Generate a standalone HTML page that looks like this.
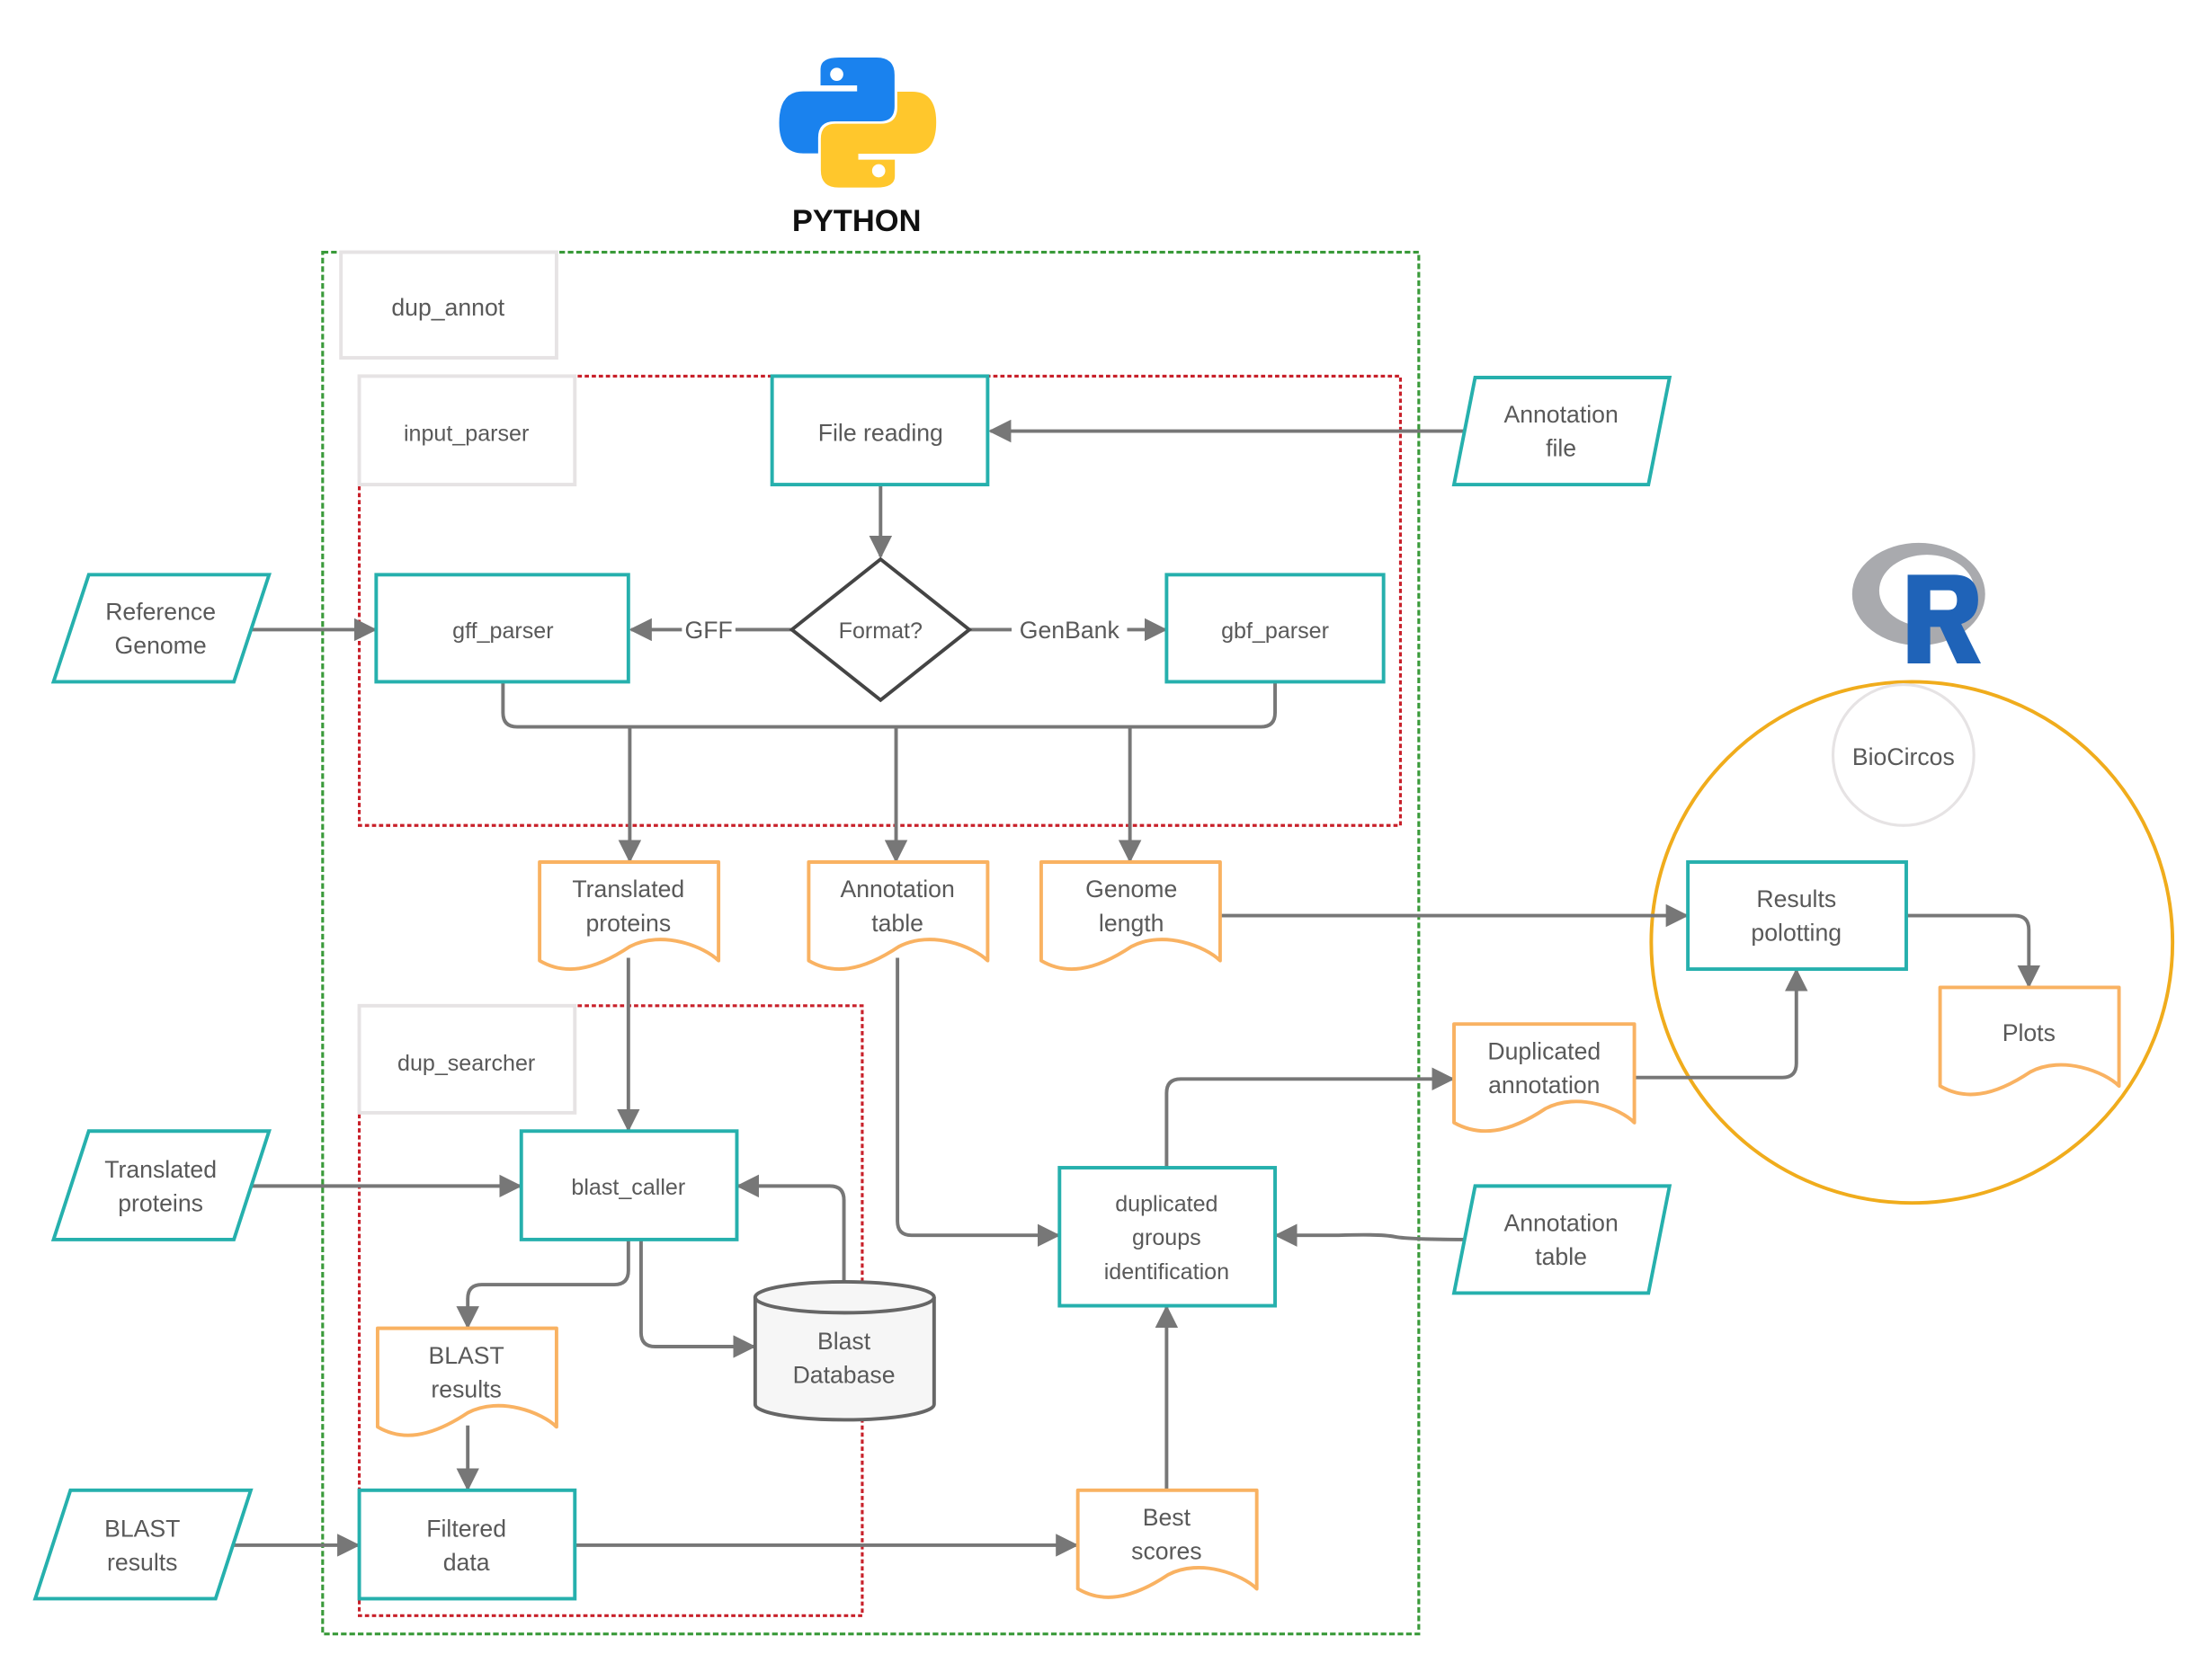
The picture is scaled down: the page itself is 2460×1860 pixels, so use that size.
<!DOCTYPE html>
<html><head><meta charset="utf-8">
<style>
html,body{margin:0;padding:0;background:#fff;}
svg{display:block;}
text{font-family:"Liberation Sans","DejaVu Sans",sans-serif;fill:#595959;}
</style></head>
<body>
<svg width="2460" height="1860" viewBox="0 0 1570 1187" xmlns="http://www.w3.org/2000/svg">
<defs>
<marker id="ar" viewBox="0 0 10 10" refX="9" refY="5" markerWidth="6.5" markerHeight="6.5" orient="auto" markerUnits="strokeWidth">
<path d="M0,0 L10,5 L0,10 Z" fill="#777"/>
</marker>
</defs>
<rect width="1570" height="1187" fill="#fff"/>

<!-- Python logo -->
<g transform="translate(542.4,25.5) scale(0.2127)">
<path d="M188,165 V110 Q188,72 250,72 H375 Q435,72 435,130 V235 Q435,285 385,285 H235 Q180,285 180,340 V392 H130 Q50,392 50,290 Q50,185 130,185 H310 V165 Z" fill="#1a82ee"/>
<circle cx="242" cy="128" r="22" fill="#fff"/>
<g transform="rotate(180 312 289)">
<path d="M188,165 V110 Q188,72 250,72 H375 Q435,72 435,130 V235 Q435,285 385,285 H235 Q180,285 180,340 V392 H130 Q50,392 50,290 Q50,185 130,185 H310 V165 Z" fill="#ffc72c"/>
<circle cx="242" cy="128" r="22" fill="#fff"/>
</g>
</g>
<text x="608" y="164" text-anchor="middle" font-size="22" font-weight="bold" style="fill:#111">PYTHON</text>

<!-- R logo -->
<path fill-rule="evenodd" fill="#a9aaae" d="M1314.6,421.8 a47.2,36.4 0 1,0 94.4,0 a47.2,36.4 0 1,0 -94.4,0 Z M1333.8,419.3 a33.8,25.5 0 1,0 67.6,0 a33.8,25.5 0 1,0 -67.6,0 Z"/>
<path fill-rule="evenodd" fill="#1f63b8" d="M1354,408 H1387 Q1404,408 1404,426 Q1404,439 1392,443 L1406,471 H1389 L1377,445 H1370 V471 H1354 Z M1370,419 H1383 Q1389,419 1389,426 Q1389,433 1383,433 H1370 Z"/>

<!-- Containers -->
<rect x="229" y="179" width="778" height="981" fill="none" stroke="#3a9a3a" stroke-width="2" stroke-dasharray="4,2"/>
<rect x="255" y="267" width="739" height="319" fill="none" stroke="#c8202a" stroke-width="2" stroke-dasharray="3,2"/>
<rect x="255" y="714" width="357" height="433" fill="none" stroke="#c8202a" stroke-width="2" stroke-dasharray="3,2"/>

<rect x="242" y="179" width="153" height="75" fill="#fff" stroke="#e6e3e4" stroke-width="2.5"/>
<text x="318" y="224" text-anchor="middle" font-size="17">dup_annot</text>
<rect x="255" y="267" width="153" height="77" fill="#fff" stroke="#e6e3e4" stroke-width="2.5"/>
<text x="331" y="313" text-anchor="middle" font-size="16">input_parser</text>
<rect x="255" y="714" width="153" height="76" fill="#fff" stroke="#e6e3e4" stroke-width="2.5"/>
<text x="331" y="760" text-anchor="middle" font-size="16">dup_searcher</text>

<!-- R ellipse & BioCircos -->
<ellipse cx="1357" cy="669" rx="185" ry="185" fill="none" stroke="#f0ac1c" stroke-width="2.5"/>
<circle cx="1351" cy="536" r="50" fill="#fff" stroke="#e6e3e4" stroke-width="2"/>
<text x="1351" y="543" text-anchor="middle" font-size="17">BioCircos</text>

<!-- connectors -->
<g fill="none" stroke="#777" stroke-width="2.5">
<path d="M1040,306 H703" marker-end="url(#ar)"/>
<path d="M625,344 V395" marker-end="url(#ar)"/>
<path d="M178,447 H266" marker-end="url(#ar)"/>
<path d="M562,447 H522"/>
<path d="M484,447 H448" marker-end="url(#ar)"/>
<path d="M688,447 H718"/>
<path d="M800,447 H827" marker-end="url(#ar)"/>
<path d="M357,484 V506 Q357,516 367,516 H895 Q905,516 905,506 V484"/>
<path d="M447,516 V611" marker-end="url(#ar)"/>
<path d="M636,516 V611" marker-end="url(#ar)"/>
<path d="M802,516 V611" marker-end="url(#ar)"/>
<path d="M866,650 H1197" marker-end="url(#ar)"/>
<path d="M1353,650 H1430 Q1440,650 1440,660 V700" marker-end="url(#ar)"/>
<path d="M446,680 V802" marker-end="url(#ar)"/>
<path d="M178,842 H369" marker-end="url(#ar)"/>
<path d="M599,910 V852 Q599,842 589,842 H524" marker-end="url(#ar)"/>
<path d="M446,880 V902 Q446,912 436,912 H342 Q332,912 332,922 V942" marker-end="url(#ar)"/>
<path d="M455,880 V946 Q455,956 465,956 H535" marker-end="url(#ar)"/>
<path d="M332,1012 V1057" marker-end="url(#ar)"/>
<path d="M165,1097 H254" marker-end="url(#ar)"/>
<path d="M408,1097 H764" marker-end="url(#ar)"/>
<path d="M828,1058 V928" marker-end="url(#ar)"/>
<path d="M637,680 V867 Q637,877 647,877 H751" marker-end="url(#ar)"/>
<path d="M1045,880 Q1000,880 990,878 Q980,876 950,877 H906" marker-end="url(#ar)"/>
<path d="M828,829 V776 Q828,766 838,766 H1031" marker-end="url(#ar)"/>
<path d="M1160,765 H1265 Q1275,765 1275,755 V689" marker-end="url(#ar)"/>
</g>

<!-- edge labels -->
<text x="503" y="453" text-anchor="middle" font-size="17">GFF</text>
<text x="759" y="453" text-anchor="middle" font-size="17">GenBank</text>

<!-- Teal process boxes -->
<g fill="#fff" stroke="#26b0ad" stroke-width="2.5">
<rect x="548" y="267" width="153" height="77"/>
<rect x="267" y="408" width="179" height="76"/>
<rect x="828" y="408" width="154" height="76"/>
<rect x="370" y="803" width="153" height="77"/>
<rect x="255" y="1058" width="153" height="77"/>
<rect x="752" y="829" width="153" height="98"/>
<rect x="1198" y="612" width="155" height="76"/>
<path d="M1047,268 H1185 L1170,344 H1032 Z"/>
<path d="M63,408 H191 L166,484 H38 Z"/>
<path d="M63,803 H191 L166,880 H38 Z"/>
<path d="M50,1058 H178 L153,1135 H25 Z"/>
<path d="M1047,842 H1185 L1170,918 H1032 Z"/>
</g>

<!-- diamond -->
<path d="M625,397 L688,447 L625,497 L562,447 Z" fill="#fff" stroke="#444" stroke-width="2.5"/>

<!-- Blast DB cylinder -->
<path d="M536,921 V997 A63.5,11 0 0,0 663,997 V921" fill="#f6f6f6" stroke="#666" stroke-width="2.5"/>
<ellipse cx="599.5" cy="921" rx="63.5" ry="11" fill="#f6f6f6" stroke="#666" stroke-width="2.5"/>

<!-- documents -->
<g fill="#fff" stroke="#f9b262" stroke-width="2.5" stroke-linejoin="round">
<path d="M383,612 H510 V682 C500,672 470,660 447,672 C420,690 400,692 383,682 Z"/>
<path d="M574,612 H701 V682 C691,672 661,660 638,672 C611,690 591,692 574,682 Z"/>
<path d="M739,612 H866 V682 C856,672 826,660 803,672 C776,690 756,692 739,682 Z"/>
<path d="M268,943 H395 V1013 C385,1003 355,991 332,1003 C305,1021 285,1023 268,1013 Z"/>
<path d="M765,1058 H892 V1128 C882,1118 852,1106 829,1118 C802,1136 782,1138 765,1128 Z"/>
<path d="M1032,727 H1160 V797 C1150,787 1120,775 1097,787 C1070,805 1050,807 1032,797 Z"/>
<path d="M1377,701 H1504 V771 C1494,761 1464,749 1441,761 C1414,779 1394,781 1377,771 Z"/>
</g>

<!-- labels -->
<g font-size="17" text-anchor="middle">
<text x="625" y="313">File reading</text>
<text x="357" y="453" font-size="16">gff_parser</text>
<text x="905" y="453" font-size="16">gbf_parser</text>
<text x="625" y="453" font-size="16">Format?</text>
<text x="446" y="848" font-size="16">blast_caller</text>
<text x="331" y="1091">Filtered</text><text x="331" y="1115">data</text>
<text x="828" y="860" font-size="16">duplicated</text>
<text x="828" y="884" font-size="16">groups</text>
<text x="828" y="908" font-size="16">identification</text>
<text x="1275" y="644">Results</text><text x="1275" y="668">polotting</text>
<text x="1108" y="300">Annotation</text><text x="1108" y="324">file</text>
<text x="114" y="440">Reference</text><text x="114" y="464">Genome</text>
<text x="114" y="836">Translated</text><text x="114" y="860">proteins</text>
<text x="101" y="1091">BLAST</text><text x="101" y="1115">results</text>
<text x="1108" y="874">Annotation</text><text x="1108" y="898">table</text>
<text x="446" y="637">Translated</text><text x="446" y="661">proteins</text>
<text x="637" y="637">Annotation</text><text x="637" y="661">table</text>
<text x="803" y="637">Genome</text><text x="803" y="661">length</text>
<text x="331" y="968">BLAST</text><text x="331" y="992">results</text>
<text x="599" y="958">Blast</text><text x="599" y="982">Database</text>
<text x="828" y="1083">Best</text><text x="828" y="1107">scores</text>
<text x="1096" y="752">Duplicated</text><text x="1096" y="776">annotation</text>
<text x="1440" y="739">Plots</text>
</g>
</svg>
</body></html>
